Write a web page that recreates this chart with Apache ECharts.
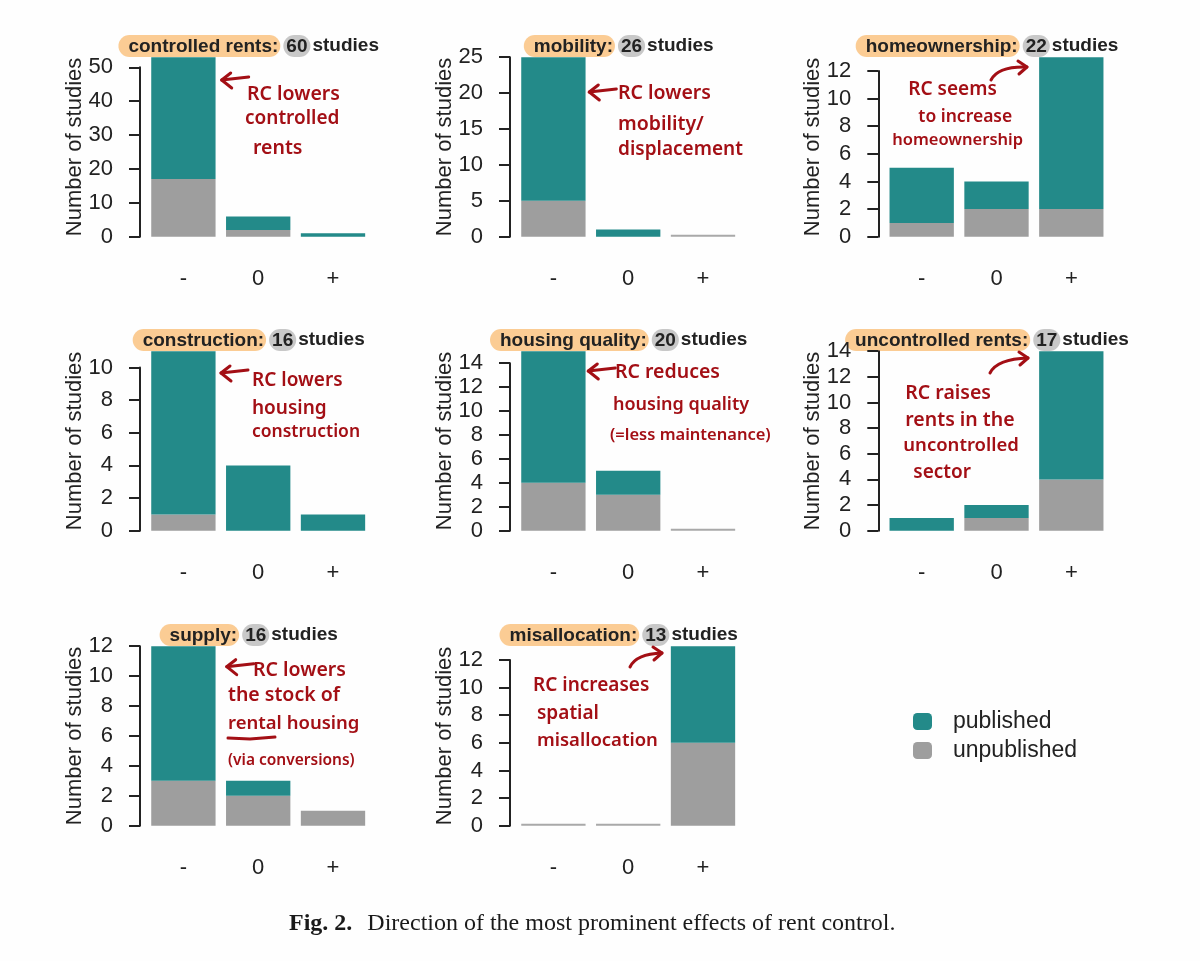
<!DOCTYPE html>
<html>
<head>
<meta charset="utf-8">
<script src="https://cdn.jsdelivr.net/npm/echarts@6/dist/echarts.min.js"></script>
<style>
  html, body { margin: 0; padding: 0; background: #fefefe; }
  #main { width: 1200px; height: 961px; }
</style>
</head>
<body>
<div id="main"></div>
<script>
// ---------------- data ----------------
const categories = ['-', '0', '+'];
const panelNames = ['controlled rents', 'mobility', 'homeownership', 'construction',
                    'housing quality', 'uncontrolled rents', 'supply', 'misallocation'];
const published = [
  [36, 4, 1],
  [20, 1, 0],
  [4, 2, 11],
  [10, 4, 1],
  [11, 2, 0],
  [1, 1, 10],
  [9, 1, 0],
  [0, 0, 7]
];
const unpublished = [
  [17, 2, 0],
  [5, 0, 0],
  [1, 2, 2],
  [1, 0, 0],
  [4, 3, 0],
  [0, 1, 4],
  [3, 2, 1],
  [0, 0, 6]
];
const tickStep = [10, 5, 2, 2, 2, 2, 2, 2];
const tickMax = [50, 25, 12, 10, 14, 14, 12, 12];
const legendNames = ['published', 'unpublished'];
const yAxisTitle = 'Number of studies';
const captionBold = 'Fig. 2.';
const captionText = 'Direction of the most prominent effects of rent control.';

// hand-written annotations: [panel, text, dx from axis line, y center offset from baseline, fontSize]
const notes = [
  [0, 'RC lowers', 107, -142, 19.5], [0, 'controlled', 105, -118, 19], [0, 'rents', 113, -88, 19.5],
  [1, 'RC lowers', 108, -143, 19.5], [1, 'mobility/', 108, -112, 19.5], [1, 'displacement', 108, -87, 19],
  [2, 'RC seems', 30, -147, 19], [2, 'to increase', 40, -120, 17.5], [2, 'homeownership', 14, -96, 16.5],
  [3, 'RC lowers', 112, -150, 19], [3, 'housing', 112, -122, 19], [3, 'construction', 112, -99, 17.5],
  [4, 'RC reduces', 105, -158, 19.5], [4, 'housing quality', 103, -126, 18], [4, '(=less maintenance)', 100, -95, 16.5],
  [5, 'RC raises', 27, -137, 19.5], [5, 'rents in the', 27, -110, 19.5], [5, 'uncontrolled', 25, -85, 18.5], [5, 'sector', 35, -58, 19],
  [6, 'RC lowers', 113, -155, 19.5], [6, 'the stock of', 88, -130, 19.5], [6, 'rental housing', 88, -102, 18.5], [6, '(via conversions)', 88, -65, 15.5],
  [7, 'RC increases', 23, -140, 19], [7, 'spatial', 27, -112, 19], [7, 'misallocation', 27, -85, 18.5]
];

// ---------------- layout ----------------
const colAxisX = [140, 510, 878.3];
const axisOffset = 6;
const gridW = 224.4;
const rowBase = [236.7, 530.7, 825.7];
const plotH = 179.5;
const TEAL = '#238a89';
const GRAY = '#9e9e9e';
const RED = '#a30f15';
const INK = '#222222';
const SANS = '"Liberation Sans", Arial, Helvetica, sans-serif';
const HAND = '"Noto Sans", "Open Sans", sans-serif';

const grids = [], xAxes = [], yAxes = [], series = [], graphics = [];

panelNames.forEach((name, i) => {
  const col = i % 3, row = Math.floor(i / 3);
  const totals = published[i].map((v, k) => v + unpublished[i][k]);
  const totalMax = Math.max(...totals);
  const count = totals.reduce((a, b) => a + b, 0);
  const h = plotH * tickMax[i] / totalMax;
  const left = colAxisX[col] + axisOffset;
  const base = rowBase[row];
  grids.push({ left: left, top: base - h, width: gridW, height: h, containLabel: false });
  xAxes.push({
    type: 'category', gridIndex: i, data: categories,
    axisLine: { show: false }, axisTick: { show: false },
    axisLabel: { fontSize: 22, color: INK, fontFamily: SANS, margin: 31 }
  });
  yAxes.push({
    type: 'value', gridIndex: i, min: 0, max: tickMax[i], interval: tickStep[i],
    offset: axisOffset,
    axisLine: { show: true, lineStyle: { color: INK, width: 2 } },
    axisTick: { show: true, length: 11, lineStyle: { color: INK, width: 2 } },
    axisLabel: { fontSize: 22, color: INK, fontFamily: SANS, margin: 27 },
    splitLine: { show: false }
  });
  const common = {
    type: 'bar', xAxisIndex: i, yAxisIndex: i, stack: 'p' + i,
    barCategoryGap: '14%', clip: false, silent: true,
    emphasis: { disabled: true }
  };
  series.push(Object.assign({}, common, {
    name: 'unpublished', data: unpublished[i], itemStyle: { color: GRAY }
  }));
  series.push(Object.assign({}, common, {
    name: 'published', data: published[i], itemStyle: { color: TEAL }
  }));
  series.push(Object.assign({}, common, {
    name: 'none', data: totals.map(t => t === 0 ? 0 : '-'), barMinHeight: 2,
    itemStyle: { color: '#a9a9a9' }
  }));

  // y axis title
  graphics.push({
    type: 'text', x: colAxisX[col] - 65, y: base - plotH / 2, rotation: Math.PI / 2,
    style: { text: yAxisTitle, fontSize: 22, fontFamily: SANS, fill: INK,
             align: 'center', verticalAlign: 'middle' }
  });
  // panel title
  graphics.push({
    type: 'text', x: left + gridW / 2 - 9.5, y: base - 190.7,
    style: {
      text: '{a|' + name + ':}{s| }{b|' + count + '}{c|studies}',
      align: 'center', verticalAlign: 'middle',
      fontSize: 19, fontWeight: 'bold', fontFamily: SANS, fill: INK,
      rich: {
        a: { fontSize: 19, fontWeight: 'bold', fontFamily: SANS, fill: INK, lineHeight: 21,
             backgroundColor: '#fbcc94', borderRadius: 12, padding: [2, 2, 1, 10] },
        s: { fontSize: 19, fontWeight: 'bold', fontFamily: SANS, fill: INK, lineHeight: 21, width: 3 },
        b: { fontSize: 19, fontWeight: 'bold', fontFamily: SANS, fill: INK, lineHeight: 21,
             backgroundColor: '#c8c8c8', borderRadius: 13, padding: [2, 3, 1, 3] },
        c: { fontSize: 19, fontWeight: 'bold', fontFamily: SANS, fill: INK, lineHeight: 21,
             padding: [0, 0, 0, 2] }
      }
    }
  });
});

// annotations text
notes.forEach(n => {
  const i = n[0], col = i % 3, row = Math.floor(i / 3);
  graphics.push({
    type: 'text', x: colAxisX[col] + n[2], y: rowBase[row] + n[3],
    style: { text: n[1], fontSize: n[4], fontWeight: 600, fontFamily: HAND, fill: RED,
             align: 'left', verticalAlign: 'middle' }
  });
});

// annotation arrows (drawn strokes)
const arrowStyle = { stroke: RED, lineWidth: 3, fill: null, lineCap: 'round', lineJoin: 'round' };
function leftArrow(x, y) {
  graphics.push({ type: 'polyline', shape: { points: [[x + 27, y - 3], [x, y]] }, style: arrowStyle });
  graphics.push({ type: 'polyline', shape: { points: [[x + 9, y - 7], [x, y], [x + 10, y + 8]] }, style: arrowStyle });
}
leftArrow(221.7, 80);
leftArrow(589.3, 92);
leftArrow(221, 373);
leftArrow(588.3, 371);
leftArrow(226.7, 666.7);
function curvedArrow(x1, y1, cx, cy, x2, y2) {
  graphics.push({ type: 'bezierCurve', shape: { x1: x1, y1: y1, cpx1: cx, cpy1: cy, x2: x2, y2: y2 }, style: arrowStyle });
  graphics.push({ type: 'polyline', shape: { points: [[x2 - 9, y2 - 6], [x2, y2], [x2 - 8, y2 + 7]] }, style: arrowStyle });
}
curvedArrow(991, 80, 998, 66, 1027, 67);
curvedArrow(990, 373, 997, 359, 1028, 358);
curvedArrow(630, 667, 636, 654, 662, 653);
// underline of "rental"
graphics.push({ type: 'polyline', shape: { points: [[228, 738], [250, 739], [275, 737]] }, style: arrowStyle });

// caption
graphics.push({
  type: 'text', x: 289, y: 923.5,
  style: {
    text: '{b|' + captionBold + '}{r|' + captionText + '}',
    align: 'left', verticalAlign: 'middle',
    rich: {
      b: { fontSize: 24, fontWeight: 'bold', fontFamily: '"Liberation Serif", "Times New Roman", serif', fill: '#1a1a1a' },
      r: { fontSize: 24, fontFamily: '"Liberation Serif", "Times New Roman", serif', fill: '#1a1a1a', padding: [0, 0, 0, 15] }
    }
  }
});

const chart = echarts.init(document.getElementById('main'), null, { renderer: 'canvas', width: 1200, height: 961 });
chart.setOption({
  backgroundColor: '#fefefe',
  animation: false,
  legend: {
    data: legendNames, orient: 'vertical', left: 913, top: 710, padding: 0,
    itemWidth: 19, itemHeight: 17, itemGap: 6, icon: 'roundRect',
    selectedMode: false,
    textStyle: { fontSize: 23, fontFamily: SANS, color: INK, lineHeight: 23, padding: [0, 0, 0, 16] }
  },
  grid: grids,
  xAxis: xAxes,
  yAxis: yAxes,
  series: series,
  graphic: { elements: graphics }
});
</script>
</body>
</html>
